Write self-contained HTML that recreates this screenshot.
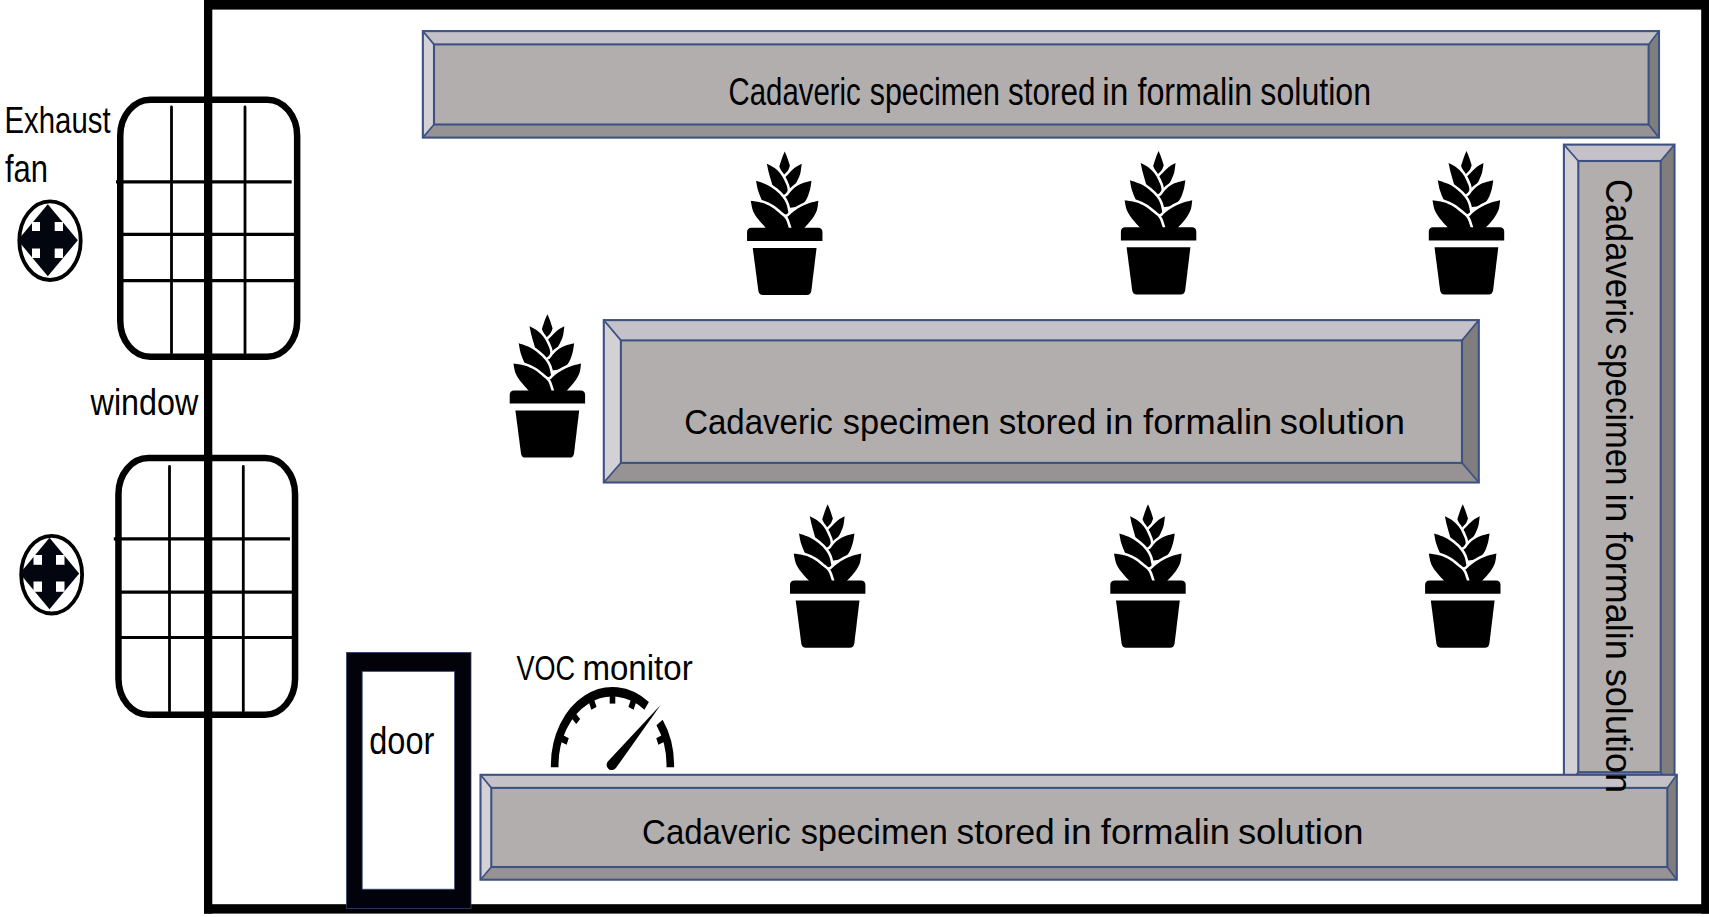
<!DOCTYPE html>
<html><head><meta charset="utf-8"><style>
html,body{margin:0;padding:0;background:#fff;width:1709px;height:917px;overflow:hidden}
svg{display:block;font-family:"Liberation Sans", sans-serif}
</style></head><body>
<svg width="1709" height="917" viewBox="0 0 1709 917">
<rect x="204" y="0" width="1505" height="9.6" fill="#000"/>
<rect x="204" y="0" width="8.3" height="913.6" fill="#000"/>
<rect x="1701.2" y="0" width="8" height="913.6" fill="#000"/>
<rect x="204" y="904.2" width="1505" height="9.4" fill="#000"/>
<rect x="120.25" y="99.75" width="176.89999999999998" height="257.0" rx="30" ry="36" fill="none" stroke="#000" stroke-width="6.5"/>
<line x1="171.5" y1="107" x2="171.5" y2="353" stroke="#000" stroke-width="2.8" stroke-linecap="round"/>
<line x1="245" y1="107" x2="245" y2="353" stroke="#000" stroke-width="2.8" stroke-linecap="round"/>
<line x1="116" y1="181.8" x2="291.7" y2="181.8" stroke="#000" stroke-width="3.2"/>
<line x1="121" y1="234.4" x2="296.4" y2="234.4" stroke="#000" stroke-width="3.2"/>
<line x1="121" y1="280.6" x2="296.4" y2="280.6" stroke="#000" stroke-width="3.2"/>
<rect x="118.45" y="458.05" width="176.60000000000002" height="256.7" rx="30" ry="36" fill="none" stroke="#000" stroke-width="6.5"/>
<line x1="169.5" y1="466.5" x2="169.5" y2="711" stroke="#000" stroke-width="2.8" stroke-linecap="round"/>
<line x1="243.3" y1="466.5" x2="243.3" y2="711" stroke="#000" stroke-width="2.8" stroke-linecap="round"/>
<line x1="113.8" y1="538.9" x2="290" y2="538.9" stroke="#000" stroke-width="3.2"/>
<line x1="119.2" y1="592.2" x2="294.3" y2="592.2" stroke="#000" stroke-width="3.2"/>
<line x1="119.2" y1="637.5" x2="294.3" y2="637.5" stroke="#000" stroke-width="3.2"/>
<ellipse cx="50" cy="240.65" rx="30.7" ry="39.35" fill="#fff" stroke="#000" stroke-width="3.8"/>
<polygon points="47.8,204.3 77.8,240.3 47.8,276.3 17.799999999999997,240.3" fill="#03050f"/>
<rect x="32" y="222" width="8" height="9" fill="#fff"/>
<rect x="54.7" y="222" width="8.3" height="9" fill="#fff"/>
<rect x="32" y="248.5" width="8" height="9.5" fill="#fff"/>
<rect x="54.7" y="248.5" width="8.3" height="9.5" fill="#fff"/>
<ellipse cx="51.65" cy="574.65" rx="30.45" ry="38.85" fill="#fff" stroke="#000" stroke-width="3.8"/>
<polygon points="49.5,537.7 79.2,573.5 49.5,609.3 19.8,573.5" fill="#03050f"/>
<rect x="33.5" y="555" width="8.5" height="9.8" fill="#fff"/>
<rect x="56" y="555" width="8.5" height="9.8" fill="#fff"/>
<rect x="33.5" y="581.5" width="8.5" height="10.3" fill="#fff"/>
<rect x="56" y="581.5" width="8.5" height="10.3" fill="#fff"/>
<rect x="346.5" y="652.4" width="124.5" height="256.1" fill="#02030a" stroke="#33456e" stroke-width="0.8"/>
<rect x="362.2" y="671.4" width="92.4" height="217.8" fill="#fff" stroke="#3a4d78" stroke-width="0.8"/>
<polygon points="422.85,31.1 1659,31.1 1648.6,44.4 434,44.4" fill="#c4c2c8"/>
<polygon points="422.85,31.1 434,44.4 434,124.5 422.85,137.6" fill="#d3d1d6"/>
<polygon points="1659,31.1 1659,137.6 1648.6,124.5 1648.6,44.4" fill="#807d7f"/>
<polygon points="422.85,137.6 434,124.5 1648.6,124.5 1659,137.6" fill="#979395"/>
<rect x="434" y="44.4" width="1214.6" height="80.1" fill="#b2aeae"/>
<g stroke="#3e5282" stroke-width="2.1" fill="none">
<rect x="422.85" y="31.1" width="1236.15" height="106.5"/>
<rect x="434" y="44.4" width="1214.6" height="80.1"/>
<path d="M422.85,31.1L434,44.4M1659,31.1L1648.6,44.4M1659,137.6L1648.6,124.5M422.85,137.6L434,124.5" stroke-width="1.7"/>
</g>
<polygon points="603.8,320.1 1478.8,320.1 1462,340.4 620.9,340.4" fill="#c4c2c8"/>
<polygon points="603.8,320.1 620.9,340.4 620.9,462.9 603.8,482.5" fill="#d3d1d6"/>
<polygon points="1478.8,320.1 1478.8,482.5 1462,462.9 1462,340.4" fill="#807d7f"/>
<polygon points="603.8,482.5 620.9,462.9 1462,462.9 1478.8,482.5" fill="#979395"/>
<rect x="620.9" y="340.4" width="841.1" height="122.5" fill="#b2aeae"/>
<g stroke="#3e5282" stroke-width="2.1" fill="none">
<rect x="603.8" y="320.1" width="875.0" height="162.39999999999998"/>
<rect x="620.9" y="340.4" width="841.1" height="122.5"/>
<path d="M603.8,320.1L620.9,340.4M1478.8,320.1L1462,340.4M1478.8,482.5L1462,462.9M603.8,482.5L620.9,462.9" stroke-width="1.7"/>
</g>
<polygon points="1563.9,144.6 1674.5,144.6 1660.7,161 1578.3,161" fill="#c4c2c8"/>
<polygon points="1563.9,144.6 1578.3,161 1578.3,772.2 1563.9,790" fill="#d3d1d6"/>
<polygon points="1674.5,144.6 1674.5,790 1660.7,772.2 1660.7,161" fill="#807d7f"/>
<polygon points="1563.9,790 1578.3,772.2 1660.7,772.2 1674.5,790" fill="#979395"/>
<rect x="1578.3" y="161" width="82.40000000000009" height="611.2" fill="#b2aeae"/>
<g stroke="#3e5282" stroke-width="2.1" fill="none">
<rect x="1563.9" y="144.6" width="110.59999999999991" height="645.4"/>
<rect x="1578.3" y="161" width="82.40000000000009" height="611.2"/>
<path d="M1563.9,144.6L1578.3,161M1674.5,144.6L1660.7,161M1674.5,790L1660.7,772.2M1563.9,790L1578.3,772.2" stroke-width="1.7"/>
</g>
<polygon points="480.5,774.8 1676.8,774.8 1667.3,787.9 491.3,787.9" fill="#c4c2c8"/>
<polygon points="480.5,774.8 491.3,787.9 491.3,867 480.5,879.7" fill="#d3d1d6"/>
<polygon points="1676.8,774.8 1676.8,879.7 1667.3,867 1667.3,787.9" fill="#807d7f"/>
<polygon points="480.5,879.7 491.3,867 1667.3,867 1676.8,879.7" fill="#979395"/>
<rect x="491.3" y="787.9" width="1176.0" height="79.10000000000002" fill="#b2aeae"/>
<g stroke="#3e5282" stroke-width="2.1" fill="none">
<rect x="480.5" y="774.8" width="1196.3" height="104.90000000000009"/>
<rect x="491.3" y="787.9" width="1176.0" height="79.10000000000002"/>
<path d="M480.5,774.8L491.3,787.9M1676.8,774.8L1667.3,787.9M1676.8,879.7L1667.3,867M480.5,879.7L491.3,867" stroke-width="1.7"/>
</g>
<g transform="translate(784.75,227.8)">
<g fill="#000" stroke="#fff" stroke-width="5.2" stroke-linejoin="round" paint-order="stroke"><path d="M-0.01,-76.18C0.42,-75.16 1.68,-72.40 2.55,-70.03C3.42,-67.66 4.77,-63.31 5.21,-61.97C4.75,-60.79 3.27,-57.08 2.46,-54.91C1.65,-52.74 0.71,-49.94 0.36,-48.95C-0.15,-49.94 -1.71,-52.86 -2.67,-54.91C-3.63,-56.96 -4.96,-60.18 -5.42,-61.23C-4.95,-62.70 -3.48,-67.54 -2.58,-70.03C-1.68,-72.52 -0.44,-75.16 -0.01,-76.18Z"/><path d="M16.95,-64.17C16.73,-62.63 16.32,-57.60 15.66,-54.91C15.00,-52.22 14.18,-50.56 13.00,-48.04C11.82,-45.52 9.33,-41.16 8.60,-39.79L2.19,-37.50C1.89,-39.41 0.59,-46.71 0.36,-48.95C0.13,-51.20 0.74,-50.63 0.81,-50.97C1.30,-51.46 2.28,-52.43 3.75,-53.90C5.22,-55.37 7.41,-58.06 9.61,-59.77C11.81,-61.48 15.73,-63.44 16.95,-64.17Z"/><path d="M-17.89,-64.17C-17.55,-62.63 -16.60,-57.84 -15.87,-54.91C-15.14,-51.98 -14.29,-49.40 -13.49,-46.57C-12.70,-43.74 -11.50,-39.39 -11.10,-37.95L2.19,-30.62C2.28,-32.04 3.14,-36.41 2.74,-39.15C2.34,-41.88 0.96,-44.57 -0.19,-47.03C-1.34,-49.49 -2.50,-51.78 -4.14,-53.90C-5.77,-56.02 -7.71,-58.06 -10.00,-59.77C-12.29,-61.48 -16.57,-63.44 -17.89,-64.17Z"/><path d="M26.75,-47.03C26.51,-45.56 26.10,-41.25 25.29,-38.23C24.48,-35.20 23.37,-31.68 21.89,-28.88C20.41,-26.08 17.31,-22.69 16.40,-21.45L2.19,-19.62C1.79,-21.24 -0.28,-27.23 -0.19,-29.34C-0.10,-31.45 1.28,-30.64 2.74,-32.27C4.21,-33.91 6.31,-37.18 8.60,-39.15C10.89,-41.12 13.46,-42.78 16.49,-44.09C19.51,-45.40 25.04,-46.54 26.75,-47.03Z"/><path d="M-28.70,-47.03C-28.36,-45.40 -27.58,-40.32 -26.68,-37.22C-25.78,-34.12 -24.51,-31.35 -23.29,-28.42C-22.07,-25.49 -20.01,-21.09 -19.35,-19.62L4.02,-12.29C3.97,-12.69 4.13,-12.81 3.75,-14.67C3.37,-16.53 2.71,-20.86 1.73,-23.47C0.75,-26.08 -0.33,-28.06 -2.12,-30.35C-3.91,-32.64 -6.36,-35.10 -8.99,-37.22C-11.62,-39.34 -14.61,-41.46 -17.89,-43.09C-21.18,-44.73 -26.90,-46.37 -28.70,-47.03Z"/><path d="M33.63,-26.95C33.39,-25.39 33.21,-20.63 32.16,-17.61C31.10,-14.59 29.25,-11.59 27.30,-8.81C25.35,-6.03 22.25,-3.01 20.43,-0.92C18.61,1.17 17.07,2.97 16.40,3.75L1.73,3.75C1.58,1.66 0.47,-6.23 0.81,-8.81C1.15,-11.39 2.12,-10.27 3.75,-11.74C5.38,-13.21 7.67,-15.65 10.62,-17.61C13.57,-19.56 17.61,-21.91 21.44,-23.47C25.28,-25.03 31.60,-26.37 33.63,-26.95Z"/><path d="M-34.02,-26.95C-33.62,-25.23 -32.85,-19.62 -31.63,-16.60C-30.41,-13.58 -28.65,-11.42 -26.68,-8.81C-24.71,-6.20 -21.57,-3.01 -19.81,-0.92C-18.05,1.17 -16.75,2.97 -16.14,3.75L4.94,3.75C4.74,2.97 4.44,1.17 3.75,-0.92C3.06,-3.01 2.12,-6.69 0.81,-8.81C-0.50,-10.93 -1.85,-11.71 -4.14,-13.66C-6.43,-15.62 -9.84,-18.66 -12.94,-20.54C-16.04,-22.42 -19.23,-23.87 -22.74,-24.94C-26.25,-26.01 -32.14,-26.61 -34.02,-26.95Z"/></g>
<path d="M-37.7,13.2 L-37.7,4.5 Q-37.7,0 -33.2,0 L33.2,0 Q37.7,0 37.7,4.5 L37.7,13.2Z" fill="#000"/>
<path d="M-32,20.1 L31.8,20.1 L26.6,63 Q26,67.2 22,67.2 L-21.8,67.2 Q-25.8,67.2 -26.4,63Z" fill="#000"/>
</g>
<g transform="translate(1158.6,227.2)">
<g fill="#000" stroke="#fff" stroke-width="5.2" stroke-linejoin="round" paint-order="stroke"><path d="M-0.01,-76.18C0.42,-75.16 1.68,-72.40 2.55,-70.03C3.42,-67.66 4.77,-63.31 5.21,-61.97C4.75,-60.79 3.27,-57.08 2.46,-54.91C1.65,-52.74 0.71,-49.94 0.36,-48.95C-0.15,-49.94 -1.71,-52.86 -2.67,-54.91C-3.63,-56.96 -4.96,-60.18 -5.42,-61.23C-4.95,-62.70 -3.48,-67.54 -2.58,-70.03C-1.68,-72.52 -0.44,-75.16 -0.01,-76.18Z"/><path d="M16.95,-64.17C16.73,-62.63 16.32,-57.60 15.66,-54.91C15.00,-52.22 14.18,-50.56 13.00,-48.04C11.82,-45.52 9.33,-41.16 8.60,-39.79L2.19,-37.50C1.89,-39.41 0.59,-46.71 0.36,-48.95C0.13,-51.20 0.74,-50.63 0.81,-50.97C1.30,-51.46 2.28,-52.43 3.75,-53.90C5.22,-55.37 7.41,-58.06 9.61,-59.77C11.81,-61.48 15.73,-63.44 16.95,-64.17Z"/><path d="M-17.89,-64.17C-17.55,-62.63 -16.60,-57.84 -15.87,-54.91C-15.14,-51.98 -14.29,-49.40 -13.49,-46.57C-12.70,-43.74 -11.50,-39.39 -11.10,-37.95L2.19,-30.62C2.28,-32.04 3.14,-36.41 2.74,-39.15C2.34,-41.88 0.96,-44.57 -0.19,-47.03C-1.34,-49.49 -2.50,-51.78 -4.14,-53.90C-5.77,-56.02 -7.71,-58.06 -10.00,-59.77C-12.29,-61.48 -16.57,-63.44 -17.89,-64.17Z"/><path d="M26.75,-47.03C26.51,-45.56 26.10,-41.25 25.29,-38.23C24.48,-35.20 23.37,-31.68 21.89,-28.88C20.41,-26.08 17.31,-22.69 16.40,-21.45L2.19,-19.62C1.79,-21.24 -0.28,-27.23 -0.19,-29.34C-0.10,-31.45 1.28,-30.64 2.74,-32.27C4.21,-33.91 6.31,-37.18 8.60,-39.15C10.89,-41.12 13.46,-42.78 16.49,-44.09C19.51,-45.40 25.04,-46.54 26.75,-47.03Z"/><path d="M-28.70,-47.03C-28.36,-45.40 -27.58,-40.32 -26.68,-37.22C-25.78,-34.12 -24.51,-31.35 -23.29,-28.42C-22.07,-25.49 -20.01,-21.09 -19.35,-19.62L4.02,-12.29C3.97,-12.69 4.13,-12.81 3.75,-14.67C3.37,-16.53 2.71,-20.86 1.73,-23.47C0.75,-26.08 -0.33,-28.06 -2.12,-30.35C-3.91,-32.64 -6.36,-35.10 -8.99,-37.22C-11.62,-39.34 -14.61,-41.46 -17.89,-43.09C-21.18,-44.73 -26.90,-46.37 -28.70,-47.03Z"/><path d="M33.63,-26.95C33.39,-25.39 33.21,-20.63 32.16,-17.61C31.10,-14.59 29.25,-11.59 27.30,-8.81C25.35,-6.03 22.25,-3.01 20.43,-0.92C18.61,1.17 17.07,2.97 16.40,3.75L1.73,3.75C1.58,1.66 0.47,-6.23 0.81,-8.81C1.15,-11.39 2.12,-10.27 3.75,-11.74C5.38,-13.21 7.67,-15.65 10.62,-17.61C13.57,-19.56 17.61,-21.91 21.44,-23.47C25.28,-25.03 31.60,-26.37 33.63,-26.95Z"/><path d="M-34.02,-26.95C-33.62,-25.23 -32.85,-19.62 -31.63,-16.60C-30.41,-13.58 -28.65,-11.42 -26.68,-8.81C-24.71,-6.20 -21.57,-3.01 -19.81,-0.92C-18.05,1.17 -16.75,2.97 -16.14,3.75L4.94,3.75C4.74,2.97 4.44,1.17 3.75,-0.92C3.06,-3.01 2.12,-6.69 0.81,-8.81C-0.50,-10.93 -1.85,-11.71 -4.14,-13.66C-6.43,-15.62 -9.84,-18.66 -12.94,-20.54C-16.04,-22.42 -19.23,-23.87 -22.74,-24.94C-26.25,-26.01 -32.14,-26.61 -34.02,-26.95Z"/></g>
<path d="M-37.7,13.2 L-37.7,4.5 Q-37.7,0 -33.2,0 L33.2,0 Q37.7,0 37.7,4.5 L37.7,13.2Z" fill="#000"/>
<path d="M-32,20.1 L31.8,20.1 L26.6,63 Q26,67.2 22,67.2 L-21.8,67.2 Q-25.8,67.2 -26.4,63Z" fill="#000"/>
</g>
<g transform="translate(1466.5,227.2)">
<g fill="#000" stroke="#fff" stroke-width="5.2" stroke-linejoin="round" paint-order="stroke"><path d="M-0.01,-76.18C0.42,-75.16 1.68,-72.40 2.55,-70.03C3.42,-67.66 4.77,-63.31 5.21,-61.97C4.75,-60.79 3.27,-57.08 2.46,-54.91C1.65,-52.74 0.71,-49.94 0.36,-48.95C-0.15,-49.94 -1.71,-52.86 -2.67,-54.91C-3.63,-56.96 -4.96,-60.18 -5.42,-61.23C-4.95,-62.70 -3.48,-67.54 -2.58,-70.03C-1.68,-72.52 -0.44,-75.16 -0.01,-76.18Z"/><path d="M16.95,-64.17C16.73,-62.63 16.32,-57.60 15.66,-54.91C15.00,-52.22 14.18,-50.56 13.00,-48.04C11.82,-45.52 9.33,-41.16 8.60,-39.79L2.19,-37.50C1.89,-39.41 0.59,-46.71 0.36,-48.95C0.13,-51.20 0.74,-50.63 0.81,-50.97C1.30,-51.46 2.28,-52.43 3.75,-53.90C5.22,-55.37 7.41,-58.06 9.61,-59.77C11.81,-61.48 15.73,-63.44 16.95,-64.17Z"/><path d="M-17.89,-64.17C-17.55,-62.63 -16.60,-57.84 -15.87,-54.91C-15.14,-51.98 -14.29,-49.40 -13.49,-46.57C-12.70,-43.74 -11.50,-39.39 -11.10,-37.95L2.19,-30.62C2.28,-32.04 3.14,-36.41 2.74,-39.15C2.34,-41.88 0.96,-44.57 -0.19,-47.03C-1.34,-49.49 -2.50,-51.78 -4.14,-53.90C-5.77,-56.02 -7.71,-58.06 -10.00,-59.77C-12.29,-61.48 -16.57,-63.44 -17.89,-64.17Z"/><path d="M26.75,-47.03C26.51,-45.56 26.10,-41.25 25.29,-38.23C24.48,-35.20 23.37,-31.68 21.89,-28.88C20.41,-26.08 17.31,-22.69 16.40,-21.45L2.19,-19.62C1.79,-21.24 -0.28,-27.23 -0.19,-29.34C-0.10,-31.45 1.28,-30.64 2.74,-32.27C4.21,-33.91 6.31,-37.18 8.60,-39.15C10.89,-41.12 13.46,-42.78 16.49,-44.09C19.51,-45.40 25.04,-46.54 26.75,-47.03Z"/><path d="M-28.70,-47.03C-28.36,-45.40 -27.58,-40.32 -26.68,-37.22C-25.78,-34.12 -24.51,-31.35 -23.29,-28.42C-22.07,-25.49 -20.01,-21.09 -19.35,-19.62L4.02,-12.29C3.97,-12.69 4.13,-12.81 3.75,-14.67C3.37,-16.53 2.71,-20.86 1.73,-23.47C0.75,-26.08 -0.33,-28.06 -2.12,-30.35C-3.91,-32.64 -6.36,-35.10 -8.99,-37.22C-11.62,-39.34 -14.61,-41.46 -17.89,-43.09C-21.18,-44.73 -26.90,-46.37 -28.70,-47.03Z"/><path d="M33.63,-26.95C33.39,-25.39 33.21,-20.63 32.16,-17.61C31.10,-14.59 29.25,-11.59 27.30,-8.81C25.35,-6.03 22.25,-3.01 20.43,-0.92C18.61,1.17 17.07,2.97 16.40,3.75L1.73,3.75C1.58,1.66 0.47,-6.23 0.81,-8.81C1.15,-11.39 2.12,-10.27 3.75,-11.74C5.38,-13.21 7.67,-15.65 10.62,-17.61C13.57,-19.56 17.61,-21.91 21.44,-23.47C25.28,-25.03 31.60,-26.37 33.63,-26.95Z"/><path d="M-34.02,-26.95C-33.62,-25.23 -32.85,-19.62 -31.63,-16.60C-30.41,-13.58 -28.65,-11.42 -26.68,-8.81C-24.71,-6.20 -21.57,-3.01 -19.81,-0.92C-18.05,1.17 -16.75,2.97 -16.14,3.75L4.94,3.75C4.74,2.97 4.44,1.17 3.75,-0.92C3.06,-3.01 2.12,-6.69 0.81,-8.81C-0.50,-10.93 -1.85,-11.71 -4.14,-13.66C-6.43,-15.62 -9.84,-18.66 -12.94,-20.54C-16.04,-22.42 -19.23,-23.87 -22.74,-24.94C-26.25,-26.01 -32.14,-26.61 -34.02,-26.95Z"/></g>
<path d="M-37.7,13.2 L-37.7,4.5 Q-37.7,0 -33.2,0 L33.2,0 Q37.7,0 37.7,4.5 L37.7,13.2Z" fill="#000"/>
<path d="M-32,20.1 L31.8,20.1 L26.6,63 Q26,67.2 22,67.2 L-21.8,67.2 Q-25.8,67.2 -26.4,63Z" fill="#000"/>
</g>
<g transform="translate(547.4,390.4)">
<g fill="#000" stroke="#fff" stroke-width="5.2" stroke-linejoin="round" paint-order="stroke"><path d="M-0.01,-76.18C0.42,-75.16 1.68,-72.40 2.55,-70.03C3.42,-67.66 4.77,-63.31 5.21,-61.97C4.75,-60.79 3.27,-57.08 2.46,-54.91C1.65,-52.74 0.71,-49.94 0.36,-48.95C-0.15,-49.94 -1.71,-52.86 -2.67,-54.91C-3.63,-56.96 -4.96,-60.18 -5.42,-61.23C-4.95,-62.70 -3.48,-67.54 -2.58,-70.03C-1.68,-72.52 -0.44,-75.16 -0.01,-76.18Z"/><path d="M16.95,-64.17C16.73,-62.63 16.32,-57.60 15.66,-54.91C15.00,-52.22 14.18,-50.56 13.00,-48.04C11.82,-45.52 9.33,-41.16 8.60,-39.79L2.19,-37.50C1.89,-39.41 0.59,-46.71 0.36,-48.95C0.13,-51.20 0.74,-50.63 0.81,-50.97C1.30,-51.46 2.28,-52.43 3.75,-53.90C5.22,-55.37 7.41,-58.06 9.61,-59.77C11.81,-61.48 15.73,-63.44 16.95,-64.17Z"/><path d="M-17.89,-64.17C-17.55,-62.63 -16.60,-57.84 -15.87,-54.91C-15.14,-51.98 -14.29,-49.40 -13.49,-46.57C-12.70,-43.74 -11.50,-39.39 -11.10,-37.95L2.19,-30.62C2.28,-32.04 3.14,-36.41 2.74,-39.15C2.34,-41.88 0.96,-44.57 -0.19,-47.03C-1.34,-49.49 -2.50,-51.78 -4.14,-53.90C-5.77,-56.02 -7.71,-58.06 -10.00,-59.77C-12.29,-61.48 -16.57,-63.44 -17.89,-64.17Z"/><path d="M26.75,-47.03C26.51,-45.56 26.10,-41.25 25.29,-38.23C24.48,-35.20 23.37,-31.68 21.89,-28.88C20.41,-26.08 17.31,-22.69 16.40,-21.45L2.19,-19.62C1.79,-21.24 -0.28,-27.23 -0.19,-29.34C-0.10,-31.45 1.28,-30.64 2.74,-32.27C4.21,-33.91 6.31,-37.18 8.60,-39.15C10.89,-41.12 13.46,-42.78 16.49,-44.09C19.51,-45.40 25.04,-46.54 26.75,-47.03Z"/><path d="M-28.70,-47.03C-28.36,-45.40 -27.58,-40.32 -26.68,-37.22C-25.78,-34.12 -24.51,-31.35 -23.29,-28.42C-22.07,-25.49 -20.01,-21.09 -19.35,-19.62L4.02,-12.29C3.97,-12.69 4.13,-12.81 3.75,-14.67C3.37,-16.53 2.71,-20.86 1.73,-23.47C0.75,-26.08 -0.33,-28.06 -2.12,-30.35C-3.91,-32.64 -6.36,-35.10 -8.99,-37.22C-11.62,-39.34 -14.61,-41.46 -17.89,-43.09C-21.18,-44.73 -26.90,-46.37 -28.70,-47.03Z"/><path d="M33.63,-26.95C33.39,-25.39 33.21,-20.63 32.16,-17.61C31.10,-14.59 29.25,-11.59 27.30,-8.81C25.35,-6.03 22.25,-3.01 20.43,-0.92C18.61,1.17 17.07,2.97 16.40,3.75L1.73,3.75C1.58,1.66 0.47,-6.23 0.81,-8.81C1.15,-11.39 2.12,-10.27 3.75,-11.74C5.38,-13.21 7.67,-15.65 10.62,-17.61C13.57,-19.56 17.61,-21.91 21.44,-23.47C25.28,-25.03 31.60,-26.37 33.63,-26.95Z"/><path d="M-34.02,-26.95C-33.62,-25.23 -32.85,-19.62 -31.63,-16.60C-30.41,-13.58 -28.65,-11.42 -26.68,-8.81C-24.71,-6.20 -21.57,-3.01 -19.81,-0.92C-18.05,1.17 -16.75,2.97 -16.14,3.75L4.94,3.75C4.74,2.97 4.44,1.17 3.75,-0.92C3.06,-3.01 2.12,-6.69 0.81,-8.81C-0.50,-10.93 -1.85,-11.71 -4.14,-13.66C-6.43,-15.62 -9.84,-18.66 -12.94,-20.54C-16.04,-22.42 -19.23,-23.87 -22.74,-24.94C-26.25,-26.01 -32.14,-26.61 -34.02,-26.95Z"/></g>
<path d="M-37.7,13.2 L-37.7,4.5 Q-37.7,0 -33.2,0 L33.2,0 Q37.7,0 37.7,4.5 L37.7,13.2Z" fill="#000"/>
<path d="M-32,20.1 L31.8,20.1 L26.6,63 Q26,67.2 22,67.2 L-21.8,67.2 Q-25.8,67.2 -26.4,63Z" fill="#000"/>
</g>
<g transform="translate(827.7,580.5)">
<g fill="#000" stroke="#fff" stroke-width="5.2" stroke-linejoin="round" paint-order="stroke"><path d="M-0.01,-76.18C0.42,-75.16 1.68,-72.40 2.55,-70.03C3.42,-67.66 4.77,-63.31 5.21,-61.97C4.75,-60.79 3.27,-57.08 2.46,-54.91C1.65,-52.74 0.71,-49.94 0.36,-48.95C-0.15,-49.94 -1.71,-52.86 -2.67,-54.91C-3.63,-56.96 -4.96,-60.18 -5.42,-61.23C-4.95,-62.70 -3.48,-67.54 -2.58,-70.03C-1.68,-72.52 -0.44,-75.16 -0.01,-76.18Z"/><path d="M16.95,-64.17C16.73,-62.63 16.32,-57.60 15.66,-54.91C15.00,-52.22 14.18,-50.56 13.00,-48.04C11.82,-45.52 9.33,-41.16 8.60,-39.79L2.19,-37.50C1.89,-39.41 0.59,-46.71 0.36,-48.95C0.13,-51.20 0.74,-50.63 0.81,-50.97C1.30,-51.46 2.28,-52.43 3.75,-53.90C5.22,-55.37 7.41,-58.06 9.61,-59.77C11.81,-61.48 15.73,-63.44 16.95,-64.17Z"/><path d="M-17.89,-64.17C-17.55,-62.63 -16.60,-57.84 -15.87,-54.91C-15.14,-51.98 -14.29,-49.40 -13.49,-46.57C-12.70,-43.74 -11.50,-39.39 -11.10,-37.95L2.19,-30.62C2.28,-32.04 3.14,-36.41 2.74,-39.15C2.34,-41.88 0.96,-44.57 -0.19,-47.03C-1.34,-49.49 -2.50,-51.78 -4.14,-53.90C-5.77,-56.02 -7.71,-58.06 -10.00,-59.77C-12.29,-61.48 -16.57,-63.44 -17.89,-64.17Z"/><path d="M26.75,-47.03C26.51,-45.56 26.10,-41.25 25.29,-38.23C24.48,-35.20 23.37,-31.68 21.89,-28.88C20.41,-26.08 17.31,-22.69 16.40,-21.45L2.19,-19.62C1.79,-21.24 -0.28,-27.23 -0.19,-29.34C-0.10,-31.45 1.28,-30.64 2.74,-32.27C4.21,-33.91 6.31,-37.18 8.60,-39.15C10.89,-41.12 13.46,-42.78 16.49,-44.09C19.51,-45.40 25.04,-46.54 26.75,-47.03Z"/><path d="M-28.70,-47.03C-28.36,-45.40 -27.58,-40.32 -26.68,-37.22C-25.78,-34.12 -24.51,-31.35 -23.29,-28.42C-22.07,-25.49 -20.01,-21.09 -19.35,-19.62L4.02,-12.29C3.97,-12.69 4.13,-12.81 3.75,-14.67C3.37,-16.53 2.71,-20.86 1.73,-23.47C0.75,-26.08 -0.33,-28.06 -2.12,-30.35C-3.91,-32.64 -6.36,-35.10 -8.99,-37.22C-11.62,-39.34 -14.61,-41.46 -17.89,-43.09C-21.18,-44.73 -26.90,-46.37 -28.70,-47.03Z"/><path d="M33.63,-26.95C33.39,-25.39 33.21,-20.63 32.16,-17.61C31.10,-14.59 29.25,-11.59 27.30,-8.81C25.35,-6.03 22.25,-3.01 20.43,-0.92C18.61,1.17 17.07,2.97 16.40,3.75L1.73,3.75C1.58,1.66 0.47,-6.23 0.81,-8.81C1.15,-11.39 2.12,-10.27 3.75,-11.74C5.38,-13.21 7.67,-15.65 10.62,-17.61C13.57,-19.56 17.61,-21.91 21.44,-23.47C25.28,-25.03 31.60,-26.37 33.63,-26.95Z"/><path d="M-34.02,-26.95C-33.62,-25.23 -32.85,-19.62 -31.63,-16.60C-30.41,-13.58 -28.65,-11.42 -26.68,-8.81C-24.71,-6.20 -21.57,-3.01 -19.81,-0.92C-18.05,1.17 -16.75,2.97 -16.14,3.75L4.94,3.75C4.74,2.97 4.44,1.17 3.75,-0.92C3.06,-3.01 2.12,-6.69 0.81,-8.81C-0.50,-10.93 -1.85,-11.71 -4.14,-13.66C-6.43,-15.62 -9.84,-18.66 -12.94,-20.54C-16.04,-22.42 -19.23,-23.87 -22.74,-24.94C-26.25,-26.01 -32.14,-26.61 -34.02,-26.95Z"/></g>
<path d="M-37.7,13.2 L-37.7,4.5 Q-37.7,0 -33.2,0 L33.2,0 Q37.7,0 37.7,4.5 L37.7,13.2Z" fill="#000"/>
<path d="M-32,20.1 L31.8,20.1 L26.6,63 Q26,67.2 22,67.2 L-21.8,67.2 Q-25.8,67.2 -26.4,63Z" fill="#000"/>
</g>
<g transform="translate(1148,580.5)">
<g fill="#000" stroke="#fff" stroke-width="5.2" stroke-linejoin="round" paint-order="stroke"><path d="M-0.01,-76.18C0.42,-75.16 1.68,-72.40 2.55,-70.03C3.42,-67.66 4.77,-63.31 5.21,-61.97C4.75,-60.79 3.27,-57.08 2.46,-54.91C1.65,-52.74 0.71,-49.94 0.36,-48.95C-0.15,-49.94 -1.71,-52.86 -2.67,-54.91C-3.63,-56.96 -4.96,-60.18 -5.42,-61.23C-4.95,-62.70 -3.48,-67.54 -2.58,-70.03C-1.68,-72.52 -0.44,-75.16 -0.01,-76.18Z"/><path d="M16.95,-64.17C16.73,-62.63 16.32,-57.60 15.66,-54.91C15.00,-52.22 14.18,-50.56 13.00,-48.04C11.82,-45.52 9.33,-41.16 8.60,-39.79L2.19,-37.50C1.89,-39.41 0.59,-46.71 0.36,-48.95C0.13,-51.20 0.74,-50.63 0.81,-50.97C1.30,-51.46 2.28,-52.43 3.75,-53.90C5.22,-55.37 7.41,-58.06 9.61,-59.77C11.81,-61.48 15.73,-63.44 16.95,-64.17Z"/><path d="M-17.89,-64.17C-17.55,-62.63 -16.60,-57.84 -15.87,-54.91C-15.14,-51.98 -14.29,-49.40 -13.49,-46.57C-12.70,-43.74 -11.50,-39.39 -11.10,-37.95L2.19,-30.62C2.28,-32.04 3.14,-36.41 2.74,-39.15C2.34,-41.88 0.96,-44.57 -0.19,-47.03C-1.34,-49.49 -2.50,-51.78 -4.14,-53.90C-5.77,-56.02 -7.71,-58.06 -10.00,-59.77C-12.29,-61.48 -16.57,-63.44 -17.89,-64.17Z"/><path d="M26.75,-47.03C26.51,-45.56 26.10,-41.25 25.29,-38.23C24.48,-35.20 23.37,-31.68 21.89,-28.88C20.41,-26.08 17.31,-22.69 16.40,-21.45L2.19,-19.62C1.79,-21.24 -0.28,-27.23 -0.19,-29.34C-0.10,-31.45 1.28,-30.64 2.74,-32.27C4.21,-33.91 6.31,-37.18 8.60,-39.15C10.89,-41.12 13.46,-42.78 16.49,-44.09C19.51,-45.40 25.04,-46.54 26.75,-47.03Z"/><path d="M-28.70,-47.03C-28.36,-45.40 -27.58,-40.32 -26.68,-37.22C-25.78,-34.12 -24.51,-31.35 -23.29,-28.42C-22.07,-25.49 -20.01,-21.09 -19.35,-19.62L4.02,-12.29C3.97,-12.69 4.13,-12.81 3.75,-14.67C3.37,-16.53 2.71,-20.86 1.73,-23.47C0.75,-26.08 -0.33,-28.06 -2.12,-30.35C-3.91,-32.64 -6.36,-35.10 -8.99,-37.22C-11.62,-39.34 -14.61,-41.46 -17.89,-43.09C-21.18,-44.73 -26.90,-46.37 -28.70,-47.03Z"/><path d="M33.63,-26.95C33.39,-25.39 33.21,-20.63 32.16,-17.61C31.10,-14.59 29.25,-11.59 27.30,-8.81C25.35,-6.03 22.25,-3.01 20.43,-0.92C18.61,1.17 17.07,2.97 16.40,3.75L1.73,3.75C1.58,1.66 0.47,-6.23 0.81,-8.81C1.15,-11.39 2.12,-10.27 3.75,-11.74C5.38,-13.21 7.67,-15.65 10.62,-17.61C13.57,-19.56 17.61,-21.91 21.44,-23.47C25.28,-25.03 31.60,-26.37 33.63,-26.95Z"/><path d="M-34.02,-26.95C-33.62,-25.23 -32.85,-19.62 -31.63,-16.60C-30.41,-13.58 -28.65,-11.42 -26.68,-8.81C-24.71,-6.20 -21.57,-3.01 -19.81,-0.92C-18.05,1.17 -16.75,2.97 -16.14,3.75L4.94,3.75C4.74,2.97 4.44,1.17 3.75,-0.92C3.06,-3.01 2.12,-6.69 0.81,-8.81C-0.50,-10.93 -1.85,-11.71 -4.14,-13.66C-6.43,-15.62 -9.84,-18.66 -12.94,-20.54C-16.04,-22.42 -19.23,-23.87 -22.74,-24.94C-26.25,-26.01 -32.14,-26.61 -34.02,-26.95Z"/></g>
<path d="M-37.7,13.2 L-37.7,4.5 Q-37.7,0 -33.2,0 L33.2,0 Q37.7,0 37.7,4.5 L37.7,13.2Z" fill="#000"/>
<path d="M-32,20.1 L31.8,20.1 L26.6,63 Q26,67.2 22,67.2 L-21.8,67.2 Q-25.8,67.2 -26.4,63Z" fill="#000"/>
</g>
<g transform="translate(1462.8,580.5)">
<g fill="#000" stroke="#fff" stroke-width="5.2" stroke-linejoin="round" paint-order="stroke"><path d="M-0.01,-76.18C0.42,-75.16 1.68,-72.40 2.55,-70.03C3.42,-67.66 4.77,-63.31 5.21,-61.97C4.75,-60.79 3.27,-57.08 2.46,-54.91C1.65,-52.74 0.71,-49.94 0.36,-48.95C-0.15,-49.94 -1.71,-52.86 -2.67,-54.91C-3.63,-56.96 -4.96,-60.18 -5.42,-61.23C-4.95,-62.70 -3.48,-67.54 -2.58,-70.03C-1.68,-72.52 -0.44,-75.16 -0.01,-76.18Z"/><path d="M16.95,-64.17C16.73,-62.63 16.32,-57.60 15.66,-54.91C15.00,-52.22 14.18,-50.56 13.00,-48.04C11.82,-45.52 9.33,-41.16 8.60,-39.79L2.19,-37.50C1.89,-39.41 0.59,-46.71 0.36,-48.95C0.13,-51.20 0.74,-50.63 0.81,-50.97C1.30,-51.46 2.28,-52.43 3.75,-53.90C5.22,-55.37 7.41,-58.06 9.61,-59.77C11.81,-61.48 15.73,-63.44 16.95,-64.17Z"/><path d="M-17.89,-64.17C-17.55,-62.63 -16.60,-57.84 -15.87,-54.91C-15.14,-51.98 -14.29,-49.40 -13.49,-46.57C-12.70,-43.74 -11.50,-39.39 -11.10,-37.95L2.19,-30.62C2.28,-32.04 3.14,-36.41 2.74,-39.15C2.34,-41.88 0.96,-44.57 -0.19,-47.03C-1.34,-49.49 -2.50,-51.78 -4.14,-53.90C-5.77,-56.02 -7.71,-58.06 -10.00,-59.77C-12.29,-61.48 -16.57,-63.44 -17.89,-64.17Z"/><path d="M26.75,-47.03C26.51,-45.56 26.10,-41.25 25.29,-38.23C24.48,-35.20 23.37,-31.68 21.89,-28.88C20.41,-26.08 17.31,-22.69 16.40,-21.45L2.19,-19.62C1.79,-21.24 -0.28,-27.23 -0.19,-29.34C-0.10,-31.45 1.28,-30.64 2.74,-32.27C4.21,-33.91 6.31,-37.18 8.60,-39.15C10.89,-41.12 13.46,-42.78 16.49,-44.09C19.51,-45.40 25.04,-46.54 26.75,-47.03Z"/><path d="M-28.70,-47.03C-28.36,-45.40 -27.58,-40.32 -26.68,-37.22C-25.78,-34.12 -24.51,-31.35 -23.29,-28.42C-22.07,-25.49 -20.01,-21.09 -19.35,-19.62L4.02,-12.29C3.97,-12.69 4.13,-12.81 3.75,-14.67C3.37,-16.53 2.71,-20.86 1.73,-23.47C0.75,-26.08 -0.33,-28.06 -2.12,-30.35C-3.91,-32.64 -6.36,-35.10 -8.99,-37.22C-11.62,-39.34 -14.61,-41.46 -17.89,-43.09C-21.18,-44.73 -26.90,-46.37 -28.70,-47.03Z"/><path d="M33.63,-26.95C33.39,-25.39 33.21,-20.63 32.16,-17.61C31.10,-14.59 29.25,-11.59 27.30,-8.81C25.35,-6.03 22.25,-3.01 20.43,-0.92C18.61,1.17 17.07,2.97 16.40,3.75L1.73,3.75C1.58,1.66 0.47,-6.23 0.81,-8.81C1.15,-11.39 2.12,-10.27 3.75,-11.74C5.38,-13.21 7.67,-15.65 10.62,-17.61C13.57,-19.56 17.61,-21.91 21.44,-23.47C25.28,-25.03 31.60,-26.37 33.63,-26.95Z"/><path d="M-34.02,-26.95C-33.62,-25.23 -32.85,-19.62 -31.63,-16.60C-30.41,-13.58 -28.65,-11.42 -26.68,-8.81C-24.71,-6.20 -21.57,-3.01 -19.81,-0.92C-18.05,1.17 -16.75,2.97 -16.14,3.75L4.94,3.75C4.74,2.97 4.44,1.17 3.75,-0.92C3.06,-3.01 2.12,-6.69 0.81,-8.81C-0.50,-10.93 -1.85,-11.71 -4.14,-13.66C-6.43,-15.62 -9.84,-18.66 -12.94,-20.54C-16.04,-22.42 -19.23,-23.87 -22.74,-24.94C-26.25,-26.01 -32.14,-26.61 -34.02,-26.95Z"/></g>
<path d="M-37.7,13.2 L-37.7,4.5 Q-37.7,0 -33.2,0 L33.2,0 Q37.7,0 37.7,4.5 L37.7,13.2Z" fill="#000"/>
<path d="M-32,20.1 L31.8,20.1 L26.6,63 Q26,67.2 22,67.2 L-21.8,67.2 Q-25.8,67.2 -26.4,63Z" fill="#000"/>
</g>
<path d="M550.90,767.20 L550.90,765.00 A61.6,77.9856 0 0 1 648.88,702.07 L644.39,709.83 A54,68.364 0 0 0 558.50,765.00 L558.50,767.20Z" fill="#000"/>
<path d="M662.65,719.71 A61.6,77.9856 0 0 1 674.10,765.00 L674.10,767.20 L666.50,767.20 L666.50,765.00 A54,68.364 0 0 0 656.46,725.30Z" fill="#000"/>
<polygon points="662.24,735.08 656.24,738.23 658.38,744.78 664.38,741.63" fill="#000"/>
<polygon points="630.96,699.31 628.47,706.92 633.65,709.63 636.13,702.03" fill="#000"/>
<polygon points="609.70,695.37 609.70,703.60 615.30,703.60 615.30,695.37" fill="#000"/>
<polygon points="588.87,702.03 591.35,709.63 596.53,706.92 594.04,699.31" fill="#000"/>
<polygon points="571.63,718.27 576.23,724.09 580.19,719.08 575.59,713.26" fill="#000"/>
<polygon points="560.62,741.63 566.62,744.78 568.76,738.23 562.76,735.08" fill="#000"/>
<path d="M660.8,704.8 L616.10,767.85 A5.2,5.2 0 1 1 608.06,761.30 Z" fill="#000"/>
<text transform="translate(4.55,132.90) scale(0.7884,1)" font-size="37.24" fill="#000" >Exhaust</text>
<text transform="translate(4.94,182.00) scale(0.8171,1)" font-size="37.93" fill="#000" >fan</text>
<text transform="translate(90.60,415.00) scale(0.8545,1)" font-size="37.79" fill="#000" >window</text>
<text transform="translate(369.20,754.00) scale(0.8487,1)" font-size="38.34" fill="#000" >door</text>
<text transform="translate(516.56,680.10) scale(0.7803,1)" font-size="34.64" fill="#000">VOC</text>
<text transform="translate(582.45,680.10) scale(0.9544,1)" font-size="34.64" fill="#000">monitor</text>
<text transform="translate(728.53,104.80) scale(0.7662,1)" font-size="38.34" fill="#000">Cadaveric</text>
<text transform="translate(869.69,104.80) scale(0.7939,1)" font-size="38.34" fill="#000">specimen</text>
<text transform="translate(1008.06,104.80) scale(0.8198,1)" font-size="38.34" fill="#000">stored</text>
<text transform="translate(1102.32,104.80) scale(0.8747,1)" font-size="38.34" fill="#000">in</text>
<text transform="translate(1137.42,104.80) scale(0.8428,1)" font-size="38.34" fill="#000">formalin</text>
<text transform="translate(1260.34,104.80) scale(0.8384,1)" font-size="38.34" fill="#000">solution</text>
<text transform="translate(684.15,433.50) scale(0.9431,1)" font-size="35.03" fill="#000">Cadaveric</text>
<text transform="translate(842.87,433.50) scale(0.9815,1)" font-size="35.03" fill="#000">specimen</text>
<text transform="translate(998.64,433.50) scale(1.0046,1)" font-size="35.03" fill="#000">stored</text>
<text transform="translate(1105.03,433.50) scale(1.0407,1)" font-size="35.03" fill="#000">in</text>
<text transform="translate(1143.06,433.50) scale(1.0366,1)" font-size="35.03" fill="#000">formalin</text>
<text transform="translate(1279.71,433.50) scale(1.0378,1)" font-size="35.03" fill="#000">solution</text>
<text transform="translate(642.05,843.90) scale(0.9278,1)" font-size="35.59" fill="#000">Cadaveric</text>
<text transform="translate(800.67,843.90) scale(0.9669,1)" font-size="35.59" fill="#000">specimen</text>
<text transform="translate(956.54,843.90) scale(0.9932,1)" font-size="35.59" fill="#000">stored</text>
<text transform="translate(1062.78,843.90) scale(1.0462,1)" font-size="35.59" fill="#000">in</text>
<text transform="translate(1100.86,843.90) scale(1.0205,1)" font-size="35.59" fill="#000">formalin</text>
<text transform="translate(1237.91,843.90) scale(1.0234,1)" font-size="35.59" fill="#000">solution</text>
<g transform="translate(1606.4,0) rotate(90)"><text transform="translate(178.97,0.00) scale(0.9555,1)" font-size="36.14" fill="#000">Cadaveric</text>
<text transform="translate(343.40,0.00) scale(0.9197,1)" font-size="36.14" fill="#000">specimen</text>
<text transform="translate(493.57,0.00) scale(1.0345,1)" font-size="36.14" fill="#000">in</text>
<text transform="translate(531.76,0.00) scale(0.9954,1)" font-size="36.14" fill="#000">formalin</text>
<text transform="translate(668.72,0.00) scale(0.9995,1)" font-size="36.14" fill="#000">solution</text></g>
</svg>
</body></html>
